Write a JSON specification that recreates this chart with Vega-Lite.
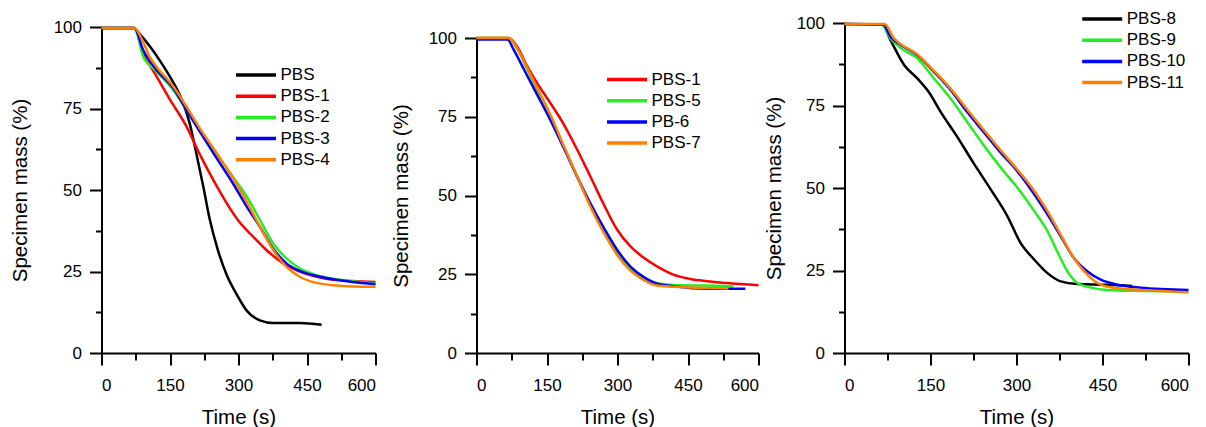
{
  "$schema": "https://vega.github.io/schema/vega-lite/v6.json",
  "padding": {"left": 10.5, "top": 9, "right": 0, "bottom": 0},
  "background": "white",
  "config": {
    "view": {"stroke": null},
    "font": "Liberation Sans",
    "axis": {
      "domainColor": "black", "domainWidth": 2, "tickColor": "black", "tickWidth": 2,
      "grid": false, "labelFont": "Liberation Sans", "labelFontSize": 17, "labelColor": "black",
      "titleFont": "Liberation Sans", "titleFontSize": 20.5, "titleFontWeight": "normal", "titleColor": "black"
    },
    "legend": {
      "labelFont": "Liberation Sans", "labelFontSize": 17, "labelColor": "black",
      "symbolType": "M-2.5,0H2.5", "symbolSize": 256, "symbolStrokeWidth": 3.5,
      "rowPadding": 3.2, "labelOffset": 14.5, "padding": 0, "orient": "none"
    }
  },
  "datasets": {
    "p1": [
      {"t": 0, "m": 99.7, "s": "PBS"}, {"t": 69, "m": 99.7, "s": "PBS"}, {"t": 90, "m": 96.8, "s": "PBS"}, {"t": 131, "m": 89, "s": "PBS"}, {"t": 153, "m": 84, "s": "PBS"}, {"t": 175, "m": 78, "s": "PBS"}, {"t": 193, "m": 70.5, "s": "PBS"}, {"t": 208, "m": 61, "s": "PBS"}, {"t": 223, "m": 51, "s": "PBS"}, {"t": 237, "m": 41, "s": "PBS"}, {"t": 255, "m": 31.5, "s": "PBS"}, {"t": 274, "m": 24, "s": "PBS"}, {"t": 296, "m": 18, "s": "PBS"}, {"t": 318, "m": 13, "s": "PBS"}, {"t": 347, "m": 10, "s": "PBS"}, {"t": 376, "m": 9.2, "s": "PBS"}, {"t": 434, "m": 9.2, "s": "PBS"}, {"t": 482, "m": 8.7, "s": "PBS"},
      {"t": 0, "m": 99.7, "s": "PBS-1"}, {"t": 72, "m": 99.7, "s": "PBS-1"}, {"t": 91, "m": 92, "s": "PBS-1"}, {"t": 120, "m": 85, "s": "PBS-1"}, {"t": 150, "m": 77.7, "s": "PBS-1"}, {"t": 186, "m": 69.5, "s": "PBS-1"}, {"t": 215, "m": 61, "s": "PBS-1"}, {"t": 245, "m": 53, "s": "PBS-1"}, {"t": 274, "m": 46, "s": "PBS-1"}, {"t": 303, "m": 40, "s": "PBS-1"}, {"t": 332, "m": 35.7, "s": "PBS-1"}, {"t": 361, "m": 31.6, "s": "PBS-1"}, {"t": 398, "m": 27.5, "s": "PBS-1"}, {"t": 434, "m": 25, "s": "PBS-1"}, {"t": 471, "m": 23.4, "s": "PBS-1"}, {"t": 507, "m": 22.5, "s": "PBS-1"}, {"t": 550, "m": 22.1, "s": "PBS-1"}, {"t": 600, "m": 21.8, "s": "PBS-1"},
      {"t": 0, "m": 99.7, "s": "PBS-2"}, {"t": 72, "m": 99.7, "s": "PBS-2"}, {"t": 91, "m": 91, "s": "PBS-2"}, {"t": 120, "m": 86.4, "s": "PBS-2"}, {"t": 157, "m": 80.7, "s": "PBS-2"}, {"t": 186, "m": 74.6, "s": "PBS-2"}, {"t": 215, "m": 68.4, "s": "PBS-2"}, {"t": 245, "m": 62.3, "s": "PBS-2"}, {"t": 288, "m": 54, "s": "PBS-2"}, {"t": 318, "m": 48, "s": "PBS-2"}, {"t": 347, "m": 40.8, "s": "PBS-2"}, {"t": 376, "m": 33.6, "s": "PBS-2"}, {"t": 405, "m": 29, "s": "PBS-2"}, {"t": 434, "m": 26, "s": "PBS-2"}, {"t": 471, "m": 23.9, "s": "PBS-2"}, {"t": 507, "m": 22.8, "s": "PBS-2"}, {"t": 550, "m": 22, "s": "PBS-2"}, {"t": 600, "m": 21.3, "s": "PBS-2"},
      {"t": 0, "m": 99.7, "s": "PBS-3"}, {"t": 72, "m": 99.7, "s": "PBS-3"}, {"t": 91, "m": 93, "s": "PBS-3"}, {"t": 120, "m": 86.9, "s": "PBS-3"}, {"t": 157, "m": 81.3, "s": "PBS-3"}, {"t": 186, "m": 74.6, "s": "PBS-3"}, {"t": 215, "m": 68, "s": "PBS-3"}, {"t": 245, "m": 61.3, "s": "PBS-3"}, {"t": 288, "m": 52, "s": "PBS-3"}, {"t": 318, "m": 44.9, "s": "PBS-3"}, {"t": 347, "m": 38.7, "s": "PBS-3"}, {"t": 376, "m": 32, "s": "PBS-3"}, {"t": 405, "m": 27.5, "s": "PBS-3"}, {"t": 434, "m": 25.2, "s": "PBS-3"}, {"t": 471, "m": 23.6, "s": "PBS-3"}, {"t": 507, "m": 22.6, "s": "PBS-3"}, {"t": 550, "m": 21.8, "s": "PBS-3"}, {"t": 600, "m": 21.1, "s": "PBS-3"},
      {"t": 0, "m": 99.7, "s": "PBS-4"}, {"t": 72, "m": 99.7, "s": "PBS-4"}, {"t": 91, "m": 95.5, "s": "PBS-4"}, {"t": 105, "m": 91, "s": "PBS-4"}, {"t": 120, "m": 87.9, "s": "PBS-4"}, {"t": 157, "m": 81.8, "s": "PBS-4"}, {"t": 186, "m": 75.6, "s": "PBS-4"}, {"t": 215, "m": 69, "s": "PBS-4"}, {"t": 245, "m": 62.8, "s": "PBS-4"}, {"t": 288, "m": 53.6, "s": "PBS-4"}, {"t": 318, "m": 46.4, "s": "PBS-4"}, {"t": 347, "m": 38.7, "s": "PBS-4"}, {"t": 376, "m": 31.6, "s": "PBS-4"}, {"t": 405, "m": 26.4, "s": "PBS-4"}, {"t": 434, "m": 23.4, "s": "PBS-4"}, {"t": 471, "m": 21.5, "s": "PBS-4"}, {"t": 507, "m": 20.8, "s": "PBS-4"}, {"t": 550, "m": 20.4, "s": "PBS-4"}, {"t": 600, "m": 20.3, "s": "PBS-4"}
    ],
    "p2": [
      {"t": 0, "m": 100, "s": "PBS-1"}, {"t": 69, "m": 100, "s": "PBS-1"}, {"t": 86, "m": 97.4, "s": "PBS-1"}, {"t": 108, "m": 91, "s": "PBS-1"}, {"t": 129, "m": 85.7, "s": "PBS-1"}, {"t": 157, "m": 79.4, "s": "PBS-1"}, {"t": 186, "m": 72.5, "s": "PBS-1"}, {"t": 214, "m": 64.6, "s": "PBS-1"}, {"t": 242, "m": 56.1, "s": "PBS-1"}, {"t": 271, "m": 47.1, "s": "PBS-1"}, {"t": 299, "m": 39.2, "s": "PBS-1"}, {"t": 327, "m": 33.9, "s": "PBS-1"}, {"t": 356, "m": 30.2, "s": "PBS-1"}, {"t": 384, "m": 27.5, "s": "PBS-1"}, {"t": 419, "m": 24.9, "s": "PBS-1"}, {"t": 455, "m": 23.5, "s": "PBS-1"}, {"t": 490, "m": 22.8, "s": "PBS-1"}, {"t": 533, "m": 22.2, "s": "PBS-1"}, {"t": 600, "m": 21.5, "s": "PBS-1"},
      {"t": 0, "m": 100, "s": "PBS-5"}, {"t": 69, "m": 100, "s": "PBS-5"}, {"t": 86, "m": 96.8, "s": "PBS-5"}, {"t": 108, "m": 90, "s": "PBS-5"}, {"t": 129, "m": 83.6, "s": "PBS-5"}, {"t": 157, "m": 75.1, "s": "PBS-5"}, {"t": 186, "m": 65.6, "s": "PBS-5"}, {"t": 214, "m": 56.1, "s": "PBS-5"}, {"t": 242, "m": 47.1, "s": "PBS-5"}, {"t": 271, "m": 38.6, "s": "PBS-5"}, {"t": 299, "m": 31.7, "s": "PBS-5"}, {"t": 327, "m": 27, "s": "PBS-5"}, {"t": 356, "m": 23.8, "s": "PBS-5"}, {"t": 384, "m": 22.2, "s": "PBS-5"}, {"t": 419, "m": 21.6, "s": "PBS-5"}, {"t": 490, "m": 21.4, "s": "PBS-5"}, {"t": 547, "m": 21.2, "s": "PBS-5"},
      {"t": 0, "m": 99.5, "s": "PB-6"}, {"t": 66, "m": 99.5, "s": "PB-6"}, {"t": 79, "m": 96.3, "s": "PB-6"}, {"t": 101, "m": 90, "s": "PB-6"}, {"t": 129, "m": 82, "s": "PB-6"}, {"t": 157, "m": 74, "s": "PB-6"}, {"t": 186, "m": 65, "s": "PB-6"}, {"t": 214, "m": 56, "s": "PB-6"}, {"t": 242, "m": 47.6, "s": "PB-6"}, {"t": 271, "m": 39.7, "s": "PB-6"}, {"t": 299, "m": 32.8, "s": "PB-6"}, {"t": 327, "m": 27.5, "s": "PB-6"}, {"t": 356, "m": 24.1, "s": "PB-6"}, {"t": 384, "m": 22, "s": "PB-6"}, {"t": 419, "m": 21.2, "s": "PB-6"}, {"t": 490, "m": 20.4, "s": "PB-6"}, {"t": 572, "m": 20.4, "s": "PB-6"},
      {"t": 0, "m": 100, "s": "PBS-7"}, {"t": 68, "m": 100, "s": "PBS-7"}, {"t": 86, "m": 96.8, "s": "PBS-7"}, {"t": 108, "m": 90.5, "s": "PBS-7"}, {"t": 129, "m": 84.1, "s": "PBS-7"}, {"t": 157, "m": 75.7, "s": "PBS-7"}, {"t": 186, "m": 65.6, "s": "PBS-7"}, {"t": 214, "m": 56.1, "s": "PBS-7"}, {"t": 242, "m": 46.6, "s": "PBS-7"}, {"t": 271, "m": 38.1, "s": "PBS-7"}, {"t": 299, "m": 31.2, "s": "PBS-7"}, {"t": 327, "m": 26.2, "s": "PBS-7"}, {"t": 356, "m": 23.1, "s": "PBS-7"}, {"t": 384, "m": 21.4, "s": "PBS-7"}, {"t": 419, "m": 21, "s": "PBS-7"}, {"t": 490, "m": 20.6, "s": "PBS-7"}, {"t": 536, "m": 20.5, "s": "PBS-7"}
    ],
    "p3": [
      {"t": 0, "m": 99.7, "s": "PBS-8"}, {"t": 66, "m": 99.5, "s": "PBS-8"}, {"t": 80, "m": 94.9, "s": "PBS-8"}, {"t": 104, "m": 87.3, "s": "PBS-8"}, {"t": 127, "m": 83.2, "s": "PBS-8"}, {"t": 147, "m": 79.1, "s": "PBS-8"}, {"t": 168, "m": 73, "s": "PBS-8"}, {"t": 197, "m": 65.4, "s": "PBS-8"}, {"t": 226, "m": 57.3, "s": "PBS-8"}, {"t": 255, "m": 49.6, "s": "PBS-8"}, {"t": 284, "m": 41.5, "s": "PBS-8"}, {"t": 307, "m": 33.4, "s": "PBS-8"}, {"t": 331, "m": 28.3, "s": "PBS-8"}, {"t": 354, "m": 24.2, "s": "PBS-8"}, {"t": 377, "m": 21.7, "s": "PBS-8"}, {"t": 406, "m": 20.9, "s": "PBS-8"}, {"t": 459, "m": 20.7, "s": "PBS-8"}, {"t": 502, "m": 20.3, "s": "PBS-8"},
      {"t": 0, "m": 99.7, "s": "PBS-9"}, {"t": 65, "m": 99.5, "s": "PBS-9"}, {"t": 80, "m": 95.4, "s": "PBS-9"}, {"t": 98, "m": 92.4, "s": "PBS-9"}, {"t": 127, "m": 89.3, "s": "PBS-9"}, {"t": 156, "m": 83.2, "s": "PBS-9"}, {"t": 185, "m": 77.1, "s": "PBS-9"}, {"t": 214, "m": 70, "s": "PBS-9"}, {"t": 243, "m": 62.9, "s": "PBS-9"}, {"t": 272, "m": 56.3, "s": "PBS-9"}, {"t": 301, "m": 50.2, "s": "PBS-9"}, {"t": 331, "m": 43, "s": "PBS-9"}, {"t": 354, "m": 36.9, "s": "PBS-9"}, {"t": 371, "m": 30.8, "s": "PBS-9"}, {"t": 389, "m": 24.7, "s": "PBS-9"}, {"t": 406, "m": 21.2, "s": "PBS-9"}, {"t": 430, "m": 19.8, "s": "PBS-9"}, {"t": 459, "m": 19.1, "s": "PBS-9"}, {"t": 517, "m": 18.8, "s": "PBS-9"}, {"t": 600, "m": 18.6, "s": "PBS-9"},
      {"t": 0, "m": 99.7, "s": "PBS-10"}, {"t": 68, "m": 99.5, "s": "PBS-10"}, {"t": 80, "m": 95.9, "s": "PBS-10"}, {"t": 98, "m": 93.4, "s": "PBS-10"}, {"t": 127, "m": 90.3, "s": "PBS-10"}, {"t": 156, "m": 85.2, "s": "PBS-10"}, {"t": 185, "m": 79.7, "s": "PBS-10"}, {"t": 214, "m": 73, "s": "PBS-10"}, {"t": 243, "m": 66.9, "s": "PBS-10"}, {"t": 272, "m": 60.8, "s": "PBS-10"}, {"t": 301, "m": 55.2, "s": "PBS-10"}, {"t": 331, "m": 48.1, "s": "PBS-10"}, {"t": 354, "m": 42, "s": "PBS-10"}, {"t": 377, "m": 35.4, "s": "PBS-10"}, {"t": 400, "m": 28.8, "s": "PBS-10"}, {"t": 424, "m": 24.7, "s": "PBS-10"}, {"t": 447, "m": 22.2, "s": "PBS-10"}, {"t": 476, "m": 20.7, "s": "PBS-10"}, {"t": 517, "m": 19.8, "s": "PBS-10"}, {"t": 600, "m": 19.1, "s": "PBS-10"},
      {"t": 0, "m": 99.7, "s": "PBS-11"}, {"t": 70, "m": 99.7, "s": "PBS-11"}, {"t": 86, "m": 95.4, "s": "PBS-11"}, {"t": 98, "m": 93.6, "s": "PBS-11"}, {"t": 127, "m": 90.5, "s": "PBS-11"}, {"t": 156, "m": 85.5, "s": "PBS-11"}, {"t": 185, "m": 80.1, "s": "PBS-11"}, {"t": 214, "m": 73.8, "s": "PBS-11"}, {"t": 243, "m": 67.6, "s": "PBS-11"}, {"t": 272, "m": 61.5, "s": "PBS-11"}, {"t": 301, "m": 55.7, "s": "PBS-11"}, {"t": 331, "m": 49.1, "s": "PBS-11"}, {"t": 354, "m": 43, "s": "PBS-11"}, {"t": 377, "m": 35.9, "s": "PBS-11"}, {"t": 400, "m": 28.8, "s": "PBS-11"}, {"t": 424, "m": 23.7, "s": "PBS-11"}, {"t": 447, "m": 20.7, "s": "PBS-11"}, {"t": 476, "m": 19.6, "s": "PBS-11"}, {"t": 517, "m": 19.1, "s": "PBS-11"}, {"t": 600, "m": 18.4, "s": "PBS-11"}
    ]
  },
  "spacing": 10,
  "resolve": {"scale": {"color": "independent"}},
  "hconcat": [
    {
      "width": 274, "height": 330,
      "data": {"name": "p1"},
      "mark": {"type": "line", "strokeWidth": 2.5, "interpolate": "monotone"},
      "encoding": {
        "x": {"field": "t", "type": "quantitative", "scale": {"domain": [0, 600], "nice": false},
          "axis": {"title": "Time (s)", "values": [0, 75, 150, 225, 300, 375, 450, 525, 600],
            "labelExpr": "datum.value % 150 === 0 ? datum.label : ''",
            "tickSize": {"condition": {"test": "datum.value % 150 === 0", "value": 12}, "value": 7},
            "labelPadding": 12, "titlePadding": 14}},
        "y": {"field": "m", "type": "quantitative", "scale": {"domain": [0, 100], "nice": false, "range": [330, 4]},
          "axis": {"title": "Specimen mass (%)", "values": [0, 12.5, 25, 37.5, 50, 62.5, 75, 87.5, 100],
            "labelExpr": "datum.value % 25 === 0 ? datum.label : ''",
            "tickSize": {"condition": {"test": "datum.value % 25 === 0", "value": 12}, "value": 6},
            "labelPadding": 8, "titlePadding": 22.5}},
        "color": {"field": "s", "type": "nominal",
          "scale": {"domain": ["PBS", "PBS-1", "PBS-2", "PBS-3", "PBS-4"], "range": ["#000000", "#ff0000", "#22ee22", "#0000ff", "#ff8000"]},
          "legend": {"title": null, "legendX": 144.5, "legendY": 42}}
      }
    },
    {
      "spacing": 0,
      "resolve": {"scale": {"color": "independent"}},
      "hconcat": [
        {
          "width": 282, "height": 330,
          "data": {"name": "p2"},
          "mark": {"type": "line", "strokeWidth": 2.5, "interpolate": "monotone"},
          "encoding": {
            "x": {"field": "t", "type": "quantitative", "scale": {"domain": [0, 600], "nice": false},
              "axis": {"title": "Time (s)", "values": [0, 75, 150, 225, 300, 375, 450, 525, 600],
                "labelExpr": "datum.value % 150 === 0 ? datum.label : ''",
                "tickSize": {"condition": {"test": "datum.value % 150 === 0", "value": 12}, "value": 7},
                "labelPadding": 12, "titlePadding": 14}},
            "y": {"field": "m", "type": "quantitative", "scale": {"domain": [0, 100], "nice": false, "range": [330, 15]},
              "axis": {"title": "Specimen mass (%)", "values": [0, 12.5, 25, 37.5, 50, 62.5, 75, 87.5, 100],
                "labelExpr": "datum.value % 25 === 0 ? datum.label : ''",
                "tickSize": {"condition": {"test": "datum.value % 25 === 0", "value": 12}, "value": 6},
                "labelPadding": 8, "titlePadding": 17}},
            "color": {"field": "s", "type": "nominal",
              "scale": {"domain": ["PBS-1", "PBS-5", "PB-6", "PBS-7"], "range": ["#ff0000", "#22ee22", "#0000ff", "#ff8000"]},
              "legend": {"title": null, "legendX": 140.5, "legendY": 46.5}}
          }
        },
        {
          "width": 344, "height": 330,
          "data": {"name": "p3"},
          "mark": {"type": "line", "strokeWidth": 2.5, "interpolate": "monotone"},
          "encoding": {
            "x": {"field": "t", "type": "quantitative", "scale": {"domain": [0, 600], "nice": false},
              "axis": {"title": "Time (s)", "values": [0, 75, 150, 225, 300, 375, 450, 525, 600],
                "labelExpr": "datum.value % 150 === 0 ? datum.label : ''",
                "tickSize": {"condition": {"test": "datum.value % 150 === 0", "value": 12}, "value": 7},
                "labelPadding": 12, "titlePadding": 14}},
            "y": {"field": "m", "type": "quantitative", "scale": {"domain": [0, 100], "nice": false, "range": [330, 0]},
              "axis": {"title": "Specimen mass (%)", "values": [0, 12.5, 25, 37.5, 50, 62.5, 75, 87.5, 100],
                "labelExpr": "datum.value % 25 === 0 ? datum.label : ''",
                "tickSize": {"condition": {"test": "datum.value % 25 === 0", "value": 12}, "value": 6},
                "labelPadding": 8, "titlePadding": 12}},
            "color": {"field": "s", "type": "nominal",
              "scale": {"domain": ["PBS-8", "PBS-9", "PBS-10", "PBS-11"], "range": ["#000000", "#22ee22", "#0000ff", "#ff8000"]},
              "legend": {"title": null, "legendX": 247.7, "legendY": -14}}
          }
        }
      ]
    }
  ]
}
